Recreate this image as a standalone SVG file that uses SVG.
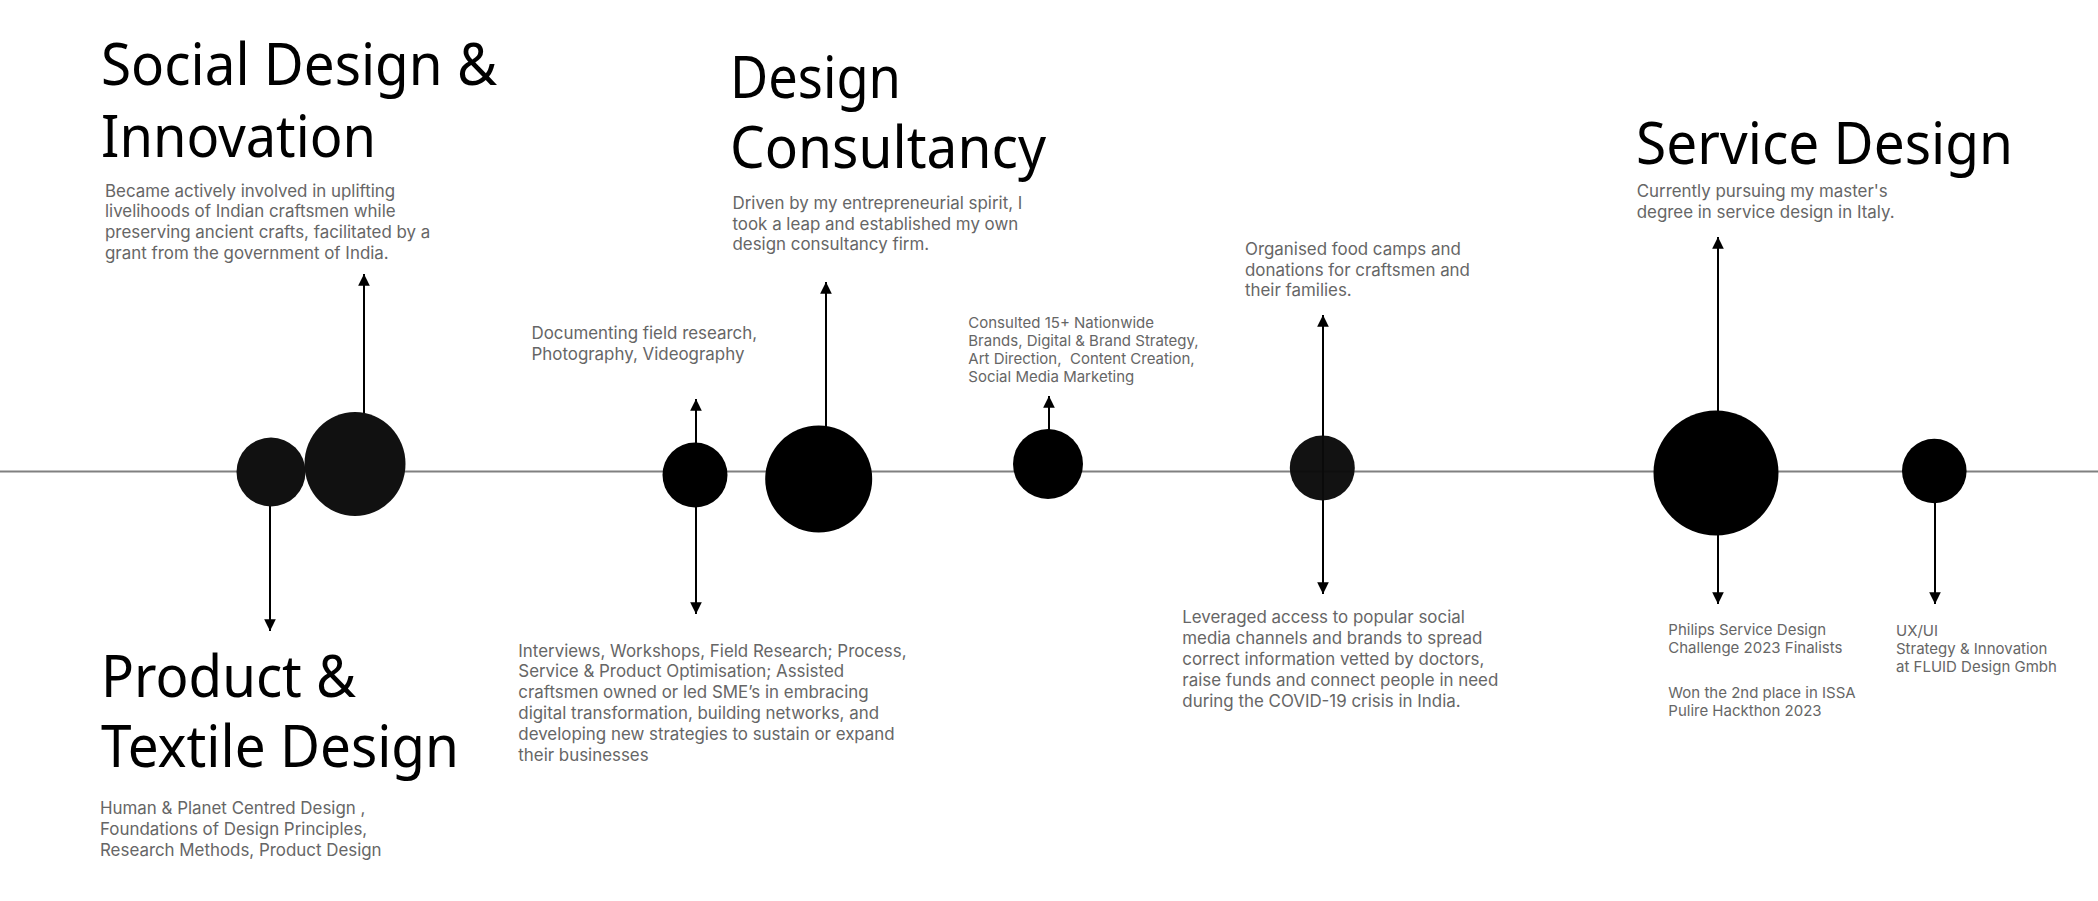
<svg xmlns="http://www.w3.org/2000/svg" width="2098" height="901" viewBox="0 0 2098 901">
<defs>
<style>
.h{font-family:"Noto Sans","Open Sans",sans-serif;font-size:59px;fill:#000}
.b{font-family:Inter,"Noto Sans",sans-serif;font-size:16.9px;fill:#666}
.s{font-family:Inter,"Noto Sans",sans-serif;font-size:15px;fill:#666}
.dot{fill:#111}
.c{stroke:#000;stroke-width:2;fill:none;marker-end:url(#ah)}
</style>
<marker id="ah" markerUnits="userSpaceOnUse" markerWidth="14" markerHeight="12" viewBox="0 0 12 10" refX="10" refY="5" orient="auto">
<path d="M0,0 L10,5 L0,10 Z" fill="#000"/>
</marker>
</defs>
<rect width="2098" height="901" fill="#fff"/>
<line x1="0" y1="471.5" x2="2098" y2="471.5" stroke="#808080" stroke-width="2"/>
<g id="connectors">
<line class="c" x1="270" y1="505" x2="270" y2="631"/>
<line class="c" x1="364" y1="414" x2="364" y2="274"/>
<line class="c" x1="696" y1="445" x2="696" y2="399"/>
<line class="c" x1="696" y1="505" x2="696" y2="614"/>
<line class="c" x1="826" y1="427" x2="826" y2="282"/>
<line class="c" x1="1049" y1="432" x2="1049" y2="396"/>
<line class="c" x1="1323" y1="468" x2="1323" y2="315"/>
<line class="c" x1="1323" y1="468" x2="1323" y2="594"/>
<line class="c" x1="1718" y1="412" x2="1718" y2="237"/>
<line class="c" x1="1718" y1="534" x2="1718" y2="604"/>
<line class="c" x1="1935" y1="501" x2="1935" y2="604"/>
</g>
<g id="n1"><circle class="dot" cx="271" cy="472" r="34.5"/></g>
<g id="n2"><ellipse class="dot" cx="355" cy="464" rx="50.5" ry="52"/></g>
<g id="n3"><circle cx="695" cy="475" r="32.5" fill="#000"/></g>
<g id="n4"><circle cx="818.7" cy="479" r="53.5" fill="#000"/></g>
<g id="n5"><circle cx="1048" cy="464" r="35" fill="#000"/></g>
<g id="n6"><circle cx="1322.3" cy="468" r="32.5" fill="#0a0a0a" fill-opacity="0.97"/></g>
<g id="n7"><circle cx="1716" cy="473" r="62.5" fill="#000"/></g>
<g id="n8"><circle cx="1934.3" cy="471" r="32.3" fill="#000"/></g>

<g id="social">
<text class="h" x="101" y="85" textLength="396" lengthAdjust="spacingAndGlyphs">Social Design &amp;</text>
<text class="h" x="101" y="156.5" textLength="275" lengthAdjust="spacingAndGlyphs">Innovation</text>
<text class="b" x="105" y="196.5">Became actively involved in uplifting</text>
<text class="b" x="105" y="217.3">livelihoods of Indian craftsmen while</text>
<text class="b" x="105" y="238">preserving ancient crafts, facilitated by a</text>
<text class="b" x="105" y="258.7">grant from the government of India.</text>
</g>
<g id="product">
<text class="h" x="101" y="696.5" textLength="255" lengthAdjust="spacingAndGlyphs">Product &amp;</text>
<text class="h" x="101" y="766.5" textLength="358" lengthAdjust="spacingAndGlyphs">Textile Design</text>
<text class="b" x="100" y="814.3">Human &amp; Planet Centred Design ,</text>
<text class="b" x="100" y="835">Foundations of Design Principles,</text>
<text class="b" x="100" y="855.5">Research Methods, Product Design</text>
</g>
<g id="documenting">
<text class="b" x="531.5" y="339.3">Documenting field research,</text>
<text class="b" x="531.5" y="360">Photography, Videography</text>
</g>
<g id="interviews">
<text class="b" x="518.3" y="656.7">Interviews, Workshops, Field Research; Process,</text>
<text class="b" x="518.3" y="677.4">Service &amp; Product Optimisation; Assisted</text>
<text class="b" x="518.3" y="698.2">craftsmen owned or led SME’s in embracing</text>
<text class="b" x="518.3" y="719">digital transformation, building networks, and</text>
<text class="b" x="518.3" y="739.8">developing new strategies to sustain or expand</text>
<text class="b" x="518.3" y="760.6">their businesses</text>
</g>
<g id="consultancy">
<text class="h" x="730" y="98.3" textLength="171" lengthAdjust="spacingAndGlyphs">Design</text>
<text class="h" x="730" y="168.3" textLength="316" lengthAdjust="spacingAndGlyphs">Consultancy</text>
<text class="b" x="732.5" y="209">Driven by my entrepreneurial spirit, I</text>
<text class="b" x="732.5" y="229.5">took a leap and established my own</text>
<text class="b" x="732.5" y="250">design consultancy firm.</text>
</g>
<g id="consulted">
<text class="s" x="968.3" y="328.3">Consulted 15+ Nationwide</text>
<text class="s" x="968.3" y="346.3">Brands, Digital &amp; Brand Strategy,</text>
<text class="s" x="968.3" y="364.3" style="white-space:pre">Art Direction,  Content Creation,</text>
<text class="s" x="968.3" y="382.3">Social Media Marketing</text>
</g>
<g id="organised">
<text class="b" x="1245" y="255">Organised food camps and</text>
<text class="b" x="1245" y="275.7">donations for craftsmen and</text>
<text class="b" x="1245" y="296.4">their families.</text>
</g>
<g id="leveraged">
<text class="b" x="1182.3" y="623.3">Leveraged access to popular social</text>
<text class="b" x="1182.3" y="644.1">media channels and brands to spread</text>
<text class="b" x="1182.3" y="664.9">correct information vetted by doctors,</text>
<text class="b" x="1182.3" y="685.7">raise funds and connect people in need</text>
<text class="b" x="1182.3" y="706.5">during the COVID-19 crisis in India.</text>
</g>
<g id="service">
<text class="h" x="1636" y="164" textLength="377" lengthAdjust="spacingAndGlyphs">Service Design</text>
<text class="b" x="1636.7" y="196.7">Currently pursuing my master's</text>
<text class="b" x="1636.7" y="218.3">degree in service design in Italy.</text>
</g>
<g id="philips">
<text class="s" x="1668.3" y="635">Philips Service Design</text>
<text class="s" x="1668.3" y="653.3">Challenge 2023 Finalists</text>
<text class="s" x="1668.3" y="697.7">Won the 2nd place in ISSA</text>
<text class="s" x="1668.3" y="715.7">Pulire Hackthon 2023</text>
</g>
<g id="uxui">
<text class="s" x="1896" y="635.7">UX/UI</text>
<text class="s" x="1896" y="654">Strategy &amp; Innovation</text>
<text class="s" x="1896" y="672.3">at FLUID Design Gmbh</text>
</g>
</svg>
